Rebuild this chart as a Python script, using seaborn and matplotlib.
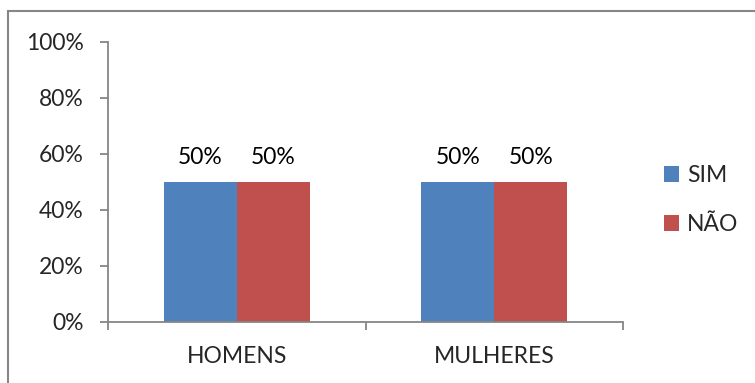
import matplotlib
matplotlib.use("Agg")
import matplotlib.pyplot as plt
from matplotlib.patches import Rectangle, Patch
from matplotlib.ticker import PercentFormatter, FixedLocator
import seaborn as sns
import pandas as pd

categories = ["HOMENS", "MULHERES"]
series = ["SIM", "NÃO"]
sim_values = [50, 50]
nao_values = [50, 50]
y_ticks = [0, 20, 40, 60, 80, 100]

colors = {"SIM": "#4F81BD", "NÃO": "#C0504D"}
axis_gray = "#868686"

df = pd.DataFrame({
    "grupo": categories * 2,
    "resposta": ["SIM"] * len(categories) + ["NÃO"] * len(categories),
    "valor": sim_values + nao_values,
})

sns.set_style("white")
plt.rcParams["font.family"] = ["Lato", "DejaVu Sans"]
FS = 16.5

fig = plt.figure(figsize=(7.55, 3.83), dpi=100)
ax = fig.add_axes([108 / 755, 1 - 322 / 383, (623 - 108) / 755, (322 - 42) / 383])

sns.barplot(data=df, x="grupo", y="valor", hue="resposta", hue_order=series,
            palette=colors, width=0.567, gap=0, saturation=1, ax=ax,
            edgecolor="none", linewidth=0, legend=False)

for container in ax.containers:
    ax.bar_label(container, labels=[f"{v:.0f}%" for v in container.datavalues],
                 padding=10, fontsize=FS, color="black")

ax.set_xlim(-0.5, len(categories) - 0.5)
ax.set_ylim(0, 100)
ax.yaxis.set_major_locator(FixedLocator(y_ticks))
ax.yaxis.set_major_formatter(PercentFormatter(decimals=0))
ax.set_xlabel("")
ax.set_ylabel("")

for side in ("top", "right"):
    ax.spines[side].set_visible(False)
for side in ("left", "bottom"):
    ax.spines[side].set_color(axis_gray)
    ax.spines[side].set_linewidth(1.3)

ax.tick_params(axis="y", which="major", direction="out", length=5.5, width=1.3,
               color=axis_gray, labelsize=FS, pad=12, left=True)
ax.tick_params(axis="x", which="major", length=0, labelsize=FS, pad=17)
ax.set_xticks([i - 0.5 for i in range(len(categories) + 1)], minor=True)
ax.tick_params(axis="x", which="minor", direction="out", length=5.5, width=1.3,
               color=axis_gray, bottom=True)
ax.grid(False)

handles = [Patch(facecolor=colors[s], edgecolor="none") for s in series]
fig.legend(handles, series, loc="center left", bbox_to_anchor=(655 / 755, 1 - 200 / 383),
           frameon=False, fontsize=FS, handlelength=0.65, handleheight=0.7,
           handletextpad=0.35, labelspacing=1.2, borderaxespad=0)

fig.patches.append(Rectangle((8 / 755, -0.1), 1.2, 1 - 11 / 383 + 0.1,
                             transform=fig.transFigure, fill=False,
                             edgecolor=axis_gray, linewidth=1.5))

fig.savefig("out.png", dpi=100, facecolor="white")
